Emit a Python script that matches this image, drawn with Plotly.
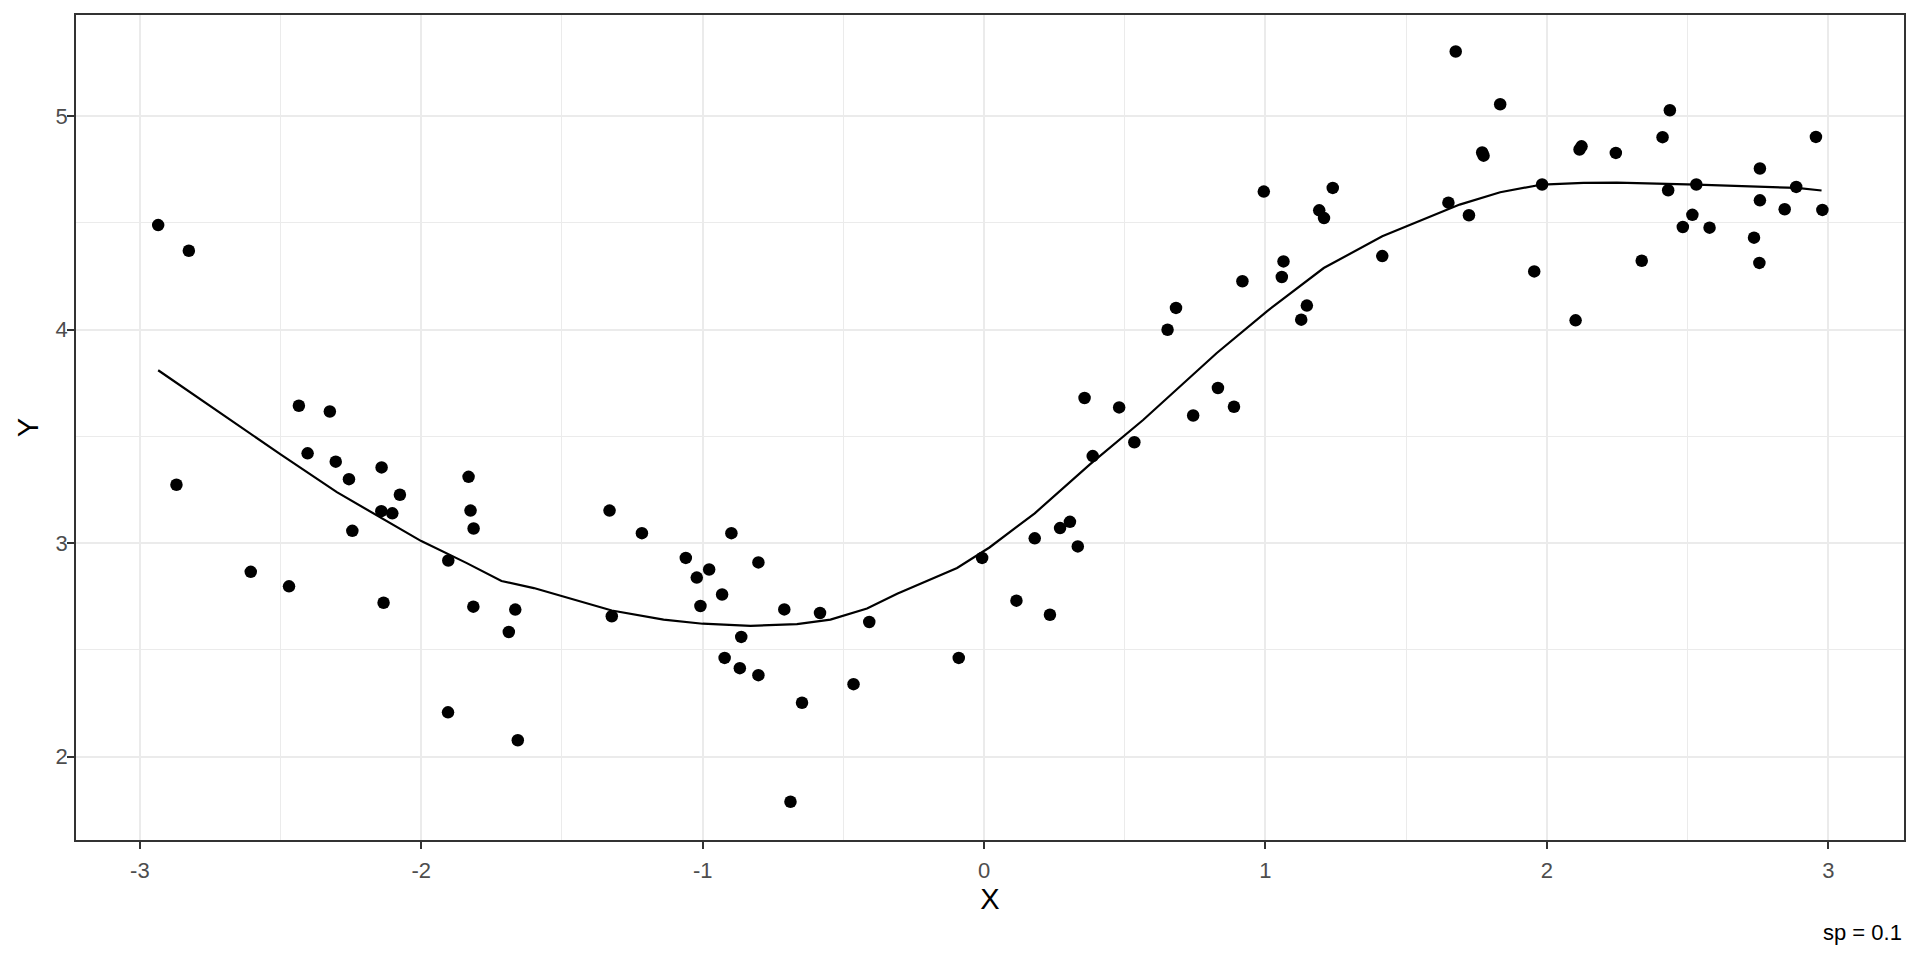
import plotly.graph_objects as go

# Scatter points
x_pts = [-2.935, -2.826, -2.435, -2.325,
         -2.870, -2.404, -2.304, -2.257, -2.141, -2.076, -2.142, -2.103, -2.245,
         -2.606, -2.470, -2.134, -1.904, -1.832, -1.825, -1.814, -1.815, -1.666,
         -1.689, -1.905, -1.657,
         -1.331, -1.216, -0.898, -1.060, -0.977, -1.021, -0.802, -0.931, -1.008,
         -1.323, -0.710, -0.583, -0.408, -0.863, -0.922, -0.868, -0.802, -0.464,
         -0.647, -0.090, -0.007, -0.688,
         0.386, 0.534, 0.180, 0.270, 0.305, 0.333, 0.115, 0.234,
         0.357, 0.480, 0.743, 0.652, 0.682, 0.831, 0.888, 0.918, 0.994, 1.064,
         1.058, 1.147, 1.127, 1.191, 1.208, 1.239, 1.415, 1.650, 1.676,
         1.834, 1.770, 1.775, 1.723, 1.983, 1.955, 2.102, 2.116, 2.123, 2.245,
         2.337, 2.411, 2.437, 2.431, 2.531, 2.517, 2.483, 2.578, 2.757, 2.757,
         2.736, 2.755, 2.845, 2.886, 2.956, 2.979]
y_pts = [4.490, 4.370, 3.644, 3.617,
         3.274, 3.421, 3.382, 3.300, 3.355, 3.227, 3.150, 3.140, 3.058,
         2.866, 2.798, 2.721, 2.919, 3.311, 3.153, 3.069, 2.703, 2.689,
         2.584, 2.208, 2.077,
         3.153, 3.047, 3.047, 2.931, 2.877, 2.839, 2.910, 2.760, 2.706,
         2.658, 2.690, 2.673, 2.631, 2.561, 2.463, 2.415, 2.382, 2.340,
         2.253, 2.463, 2.931, 1.789,
         3.408, 3.473, 3.023, 3.071, 3.100, 2.985, 2.731, 2.665,
         3.680, 3.636, 3.598, 4.000, 4.102, 3.727, 3.639, 4.227, 4.647, 4.320,
         4.247, 4.113, 4.047, 4.559, 4.523, 4.664, 4.345, 4.595, 5.303,
         5.056, 4.830, 4.815, 4.536, 4.680, 4.273, 4.044, 4.844, 4.859, 4.828,
         4.323, 4.902, 5.028, 4.653, 4.680, 4.538, 4.481, 4.478, 4.755, 4.606,
         4.431, 4.313, 4.564, 4.669, 4.903, 4.561]

# Smoothed curve
line_x = [-2.935, -2.68, -2.5, -2.30, -2.14, -2.0, -1.84, -1.715, -1.6, -1.323,
          -1.139, -1.0, -0.83, -0.665, -0.546, -0.416, -0.309, -0.096, 0.019,
          0.18, 0.375, 0.565, 0.827, 1.005, 1.207, 1.415, 1.69, 1.834, 1.983,
          2.13, 2.249, 2.426, 2.533, 2.888, 2.976]
line_y = [3.81, 3.577, 3.416, 3.239, 3.118, 3.01, 2.908, 2.823, 2.79, 2.685,
          2.642, 2.623, 2.613, 2.621, 2.642, 2.694, 2.763, 2.884, 2.98,
          3.14, 3.368, 3.577, 3.891, 4.086, 4.289, 4.4375, 4.586, 4.644, 4.68,
          4.6875, 4.689, 4.684, 4.68, 4.664, 4.652]

x_ticks = [-3, -2, -1, 0, 1, 2, 3]
y_ticks = [2, 3, 4, 5]
caption = "sp = 0.1"

FONT = "Liberation Sans, Arial, sans-serif"

fig = go.Figure()
fig.add_trace(go.Scatter(x=x_pts, y=y_pts, mode="markers",
                         marker=dict(color="black", size=12.5, line=dict(width=0)),
                         showlegend=False, hoverinfo="x+y"))
fig.add_trace(go.Scatter(x=line_x, y=line_y, mode="lines",
                         line=dict(color="black", width=2.2),
                         showlegend=False))

axis_common = dict(
    showgrid=True, gridcolor="#ebebeb", gridwidth=2,
    zeroline=False, automargin=False,
    showline=True, linecolor="#333333", linewidth=1.5, mirror=True,
    ticks="outside", ticklen=7, tickwidth=2, tickcolor="#333333",
    tickfont=dict(family=FONT, size=22, color="#4d4d4d"),
)

fig.update_xaxes(
    range=[-3.227, 3.269], tickvals=x_ticks, ticktext=[str(v) for v in x_ticks],
    ticklabelstandoff=3,
    minor=dict(dtick=0.5, tick0=0, showgrid=True, gridcolor="#ebebeb", gridwidth=1, ticks=""),
    title=dict(text="X", font=dict(family=FONT, size=29, color="black"), standoff=0),
    **axis_common)
fig.update_yaxes(
    range=[1.610, 5.474], tickvals=y_ticks, ticktext=[str(v) for v in y_ticks],
    ticklabelstandoff=-5,
    minor=dict(dtick=0.5, tick0=0, showgrid=True, gridcolor="#ebebeb", gridwidth=1, ticks=""),
    title=dict(text="Y", font=dict(family=FONT, size=29, color="black"), standoff=8),
    **axis_common)

fig.add_annotation(text=caption, xref="paper", yref="paper", x=1, y=-0.1127,
                   xanchor="right", yanchor="middle", showarrow=False,
                   font=dict(family=FONT, size=22, color="black"))

# page body has an 8px margin: size the figure to fit the window exactly
fig.update_layout(
    width=1904, height=944,
    margin=dict(l=68, r=8, t=7, b=112),
    plot_bgcolor="white", paper_bgcolor="white",
    font=dict(family=FONT),
)

fig.write_html("out.html")
